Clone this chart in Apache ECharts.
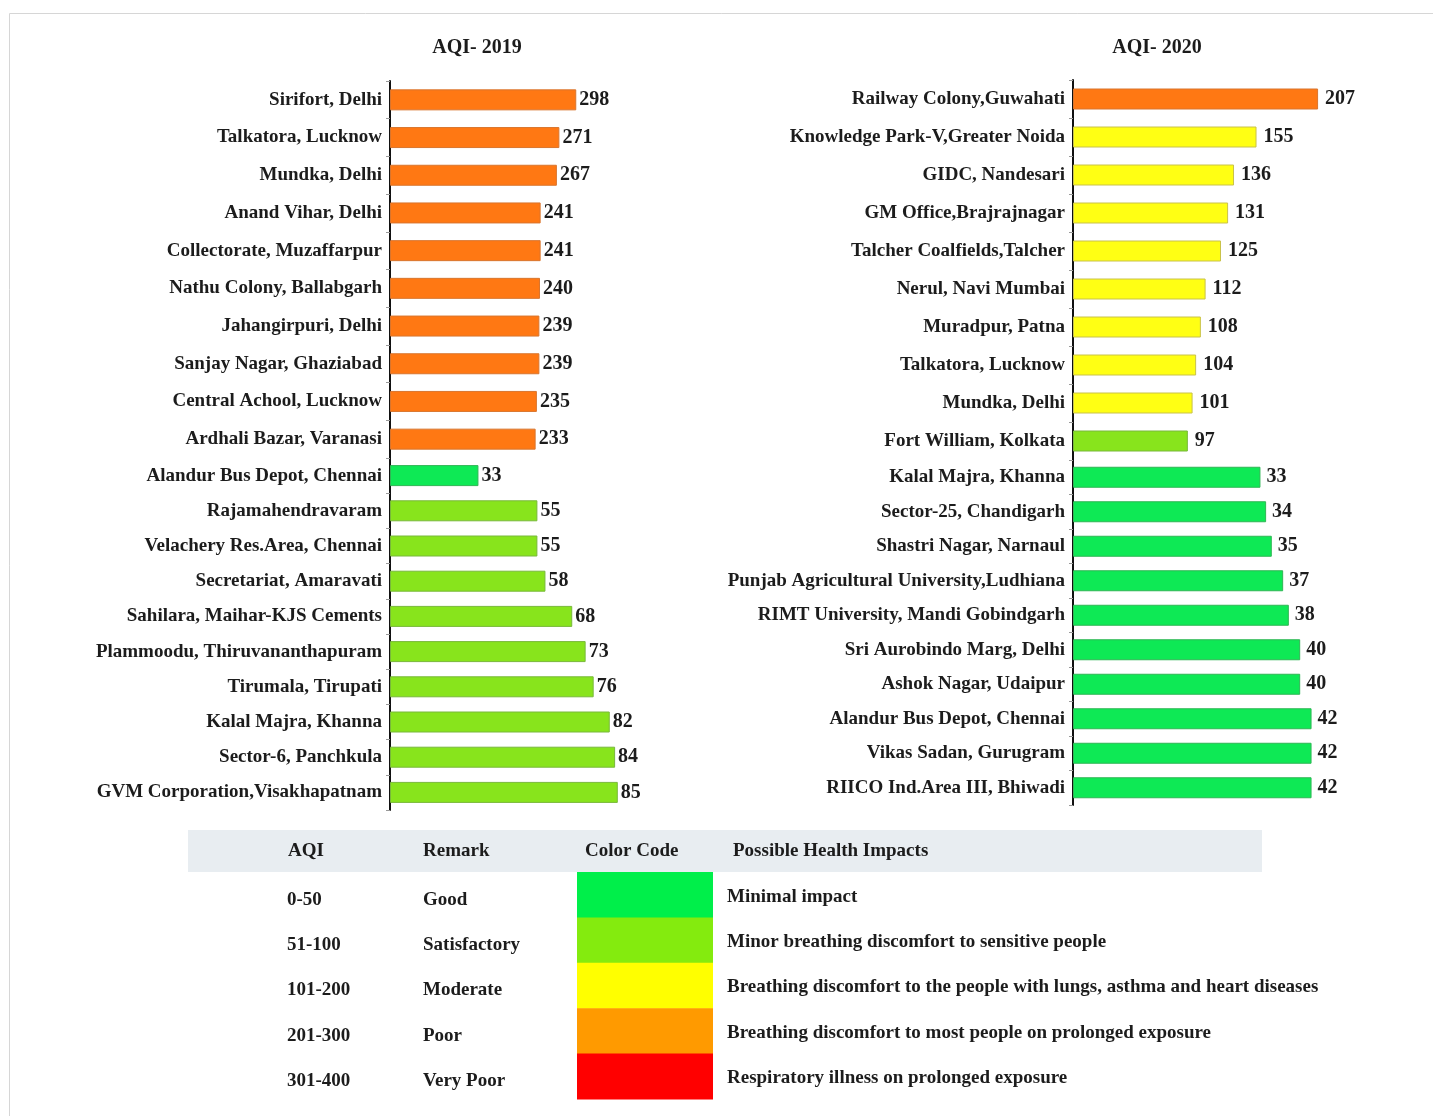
<!DOCTYPE html>
<html>
<head>
<meta charset="utf-8">
<title>AQI 2019 / 2020</title>
<script src="https://cdn.jsdelivr.net/npm/echarts@6/dist/echarts.min.js"></script>
<style>
html, body { margin: 0; padding: 0; background: #fff; }
#main { width: 1433px; height: 1116px; }
</style>
</head>
<body>
<div id="main"></div>
<script>
// 2019: ten most polluted and ten cleanest stations
var sites2019 = ['Sirifort, Delhi', 'Talkatora, Lucknow', 'Mundka, Delhi', 'Anand Vihar, Delhi',
    'Collectorate, Muzaffarpur', 'Nathu Colony, Ballabgarh', 'Jahangirpuri, Delhi', 'Sanjay Nagar, Ghaziabad',
    'Central Achool, Lucknow', 'Ardhali Bazar, Varanasi', 'Alandur Bus Depot, Chennai', 'Rajamahendravaram',
    'Velachery Res.Area, Chennai', 'Secretariat, Amaravati', 'Sahilara, Maihar-KJS Cements',
    'Plammoodu, Thiruvananthapuram', 'Tirumala, Tirupati', 'Kalal Majra, Khanna', 'Sector-6, Panchkula',
    'GVM Corporation,Visakhapatnam'];
var aqi2019 = [298, 271, 267, 241, 241, 240, 239, 239, 235, 233, 33, 55, 55, 58, 68, 73, 76, 82, 84, 85];

// 2020
var sites2020 = ['Railway Colony,Guwahati', 'Knowledge Park-V,Greater Noida', 'GIDC, Nandesari',
    'GM Office,Brajrajnagar', 'Talcher Coalfields,Talcher', 'Nerul, Navi Mumbai', 'Muradpur, Patna',
    'Talkatora, Lucknow', 'Mundka, Delhi', 'Fort William, Kolkata', 'Kalal Majra, Khanna',
    'Sector-25, Chandigarh', 'Shastri Nagar, Narnaul', 'Punjab Agricultural University,Ludhiana',
    'RIMT University, Mandi Gobindgarh', 'Sri Aurobindo Marg, Delhi', 'Ashok Nagar, Udaipur',
    'Alandur Bus Depot, Chennai', 'Vikas Sadan, Gurugram', 'RIICO Ind.Area III, Bhiwadi'];
var aqi2020 = [207, 155, 136, 131, 125, 112, 108, 104, 101, 97, 33, 34, 35, 37, 38, 40, 40, 42, 42, 42];

// AQI bands (table under the charts)
var tableHeads = ['AQI', 'Remark', 'Color Code', 'Possible Health Impacts'];
var bandTop = [50, 100, 200, 300, 400];
var bandRanges = ['0-50', '51-100', '101-200', '201-300', '301-400'];
var bandRemarks = ['Good', 'Satisfactory', 'Moderate', 'Poor', 'Very Poor'];
var bandColors = ['#00ef4a', '#84eb0e', '#ffff00', '#ff9a00', '#ff0000'];
var bandImpacts = ['Minimal impact', 'Minor breathing discomfort to sensitive people',
    'Breathing discomfort to the people with lungs, asthma and heart diseases',
    'Breathing discomfort to most people on prolonged exposure', 'Respiratory illness on prolonged exposure'];

// bar fill is a little different from the table swatches
var barColors = ['#0ee955', '#88e41c', '#ffff14', '#ff7813', '#ff1010'];
var barEdges = ['#2fb654', '#78b83a', '#c9c24a', '#d9752e', '#c03030'];

var FONT = '"Liberation Serif", "Times New Roman", serif';

function bandOf(v) {
    for (var i = 0; i < bandTop.length; i++) {
        if (v <= bandTop[i]) return i;
    }
    return bandTop.length - 1;
}

function barData(vals) {
    return vals.map(function (v) {
        var b = bandOf(v);
        return {value: v, itemStyle: {color: barColors[b], borderColor: barEdges[b], borderWidth: 1}};
    });
}

// each panel is two stacked grids: the source draws the top and bottom ten at different scales
var panels = [
    {names: sites2019.slice(0, 10), vals: aqi2019.slice(0, 10), left: 390, top: 81, height: 377, width: 250, max: 400, gap: 3},
    {names: sites2019.slice(10), vals: aqi2019.slice(10), left: 390, top: 458, height: 352, width: 268, max: 100, gap: 3},
    {names: sites2020.slice(0, 10), vals: aqi2020.slice(0, 10), left: 1073, top: 80, height: 380, width: 296, max: 250, gap: 7},
    {names: sites2020.slice(10), vals: aqi2020.slice(10), left: 1073, top: 460, height: 345, width: 284, max: 50, gap: 6}
];

var grids = [], xAxes = [], yAxes = [], series = [];
panels.forEach(function (p, i) {
    grids.push({left: p.left, top: p.top, width: p.width, height: p.height, containLabel: false});
    xAxes.push({type: 'value', gridIndex: i, min: 0, max: p.max, show: false});
    yAxes.push({
        type: 'category', gridIndex: i, inverse: true, data: p.names,
        axisLine: {show: true, lineStyle: {color: '#111', width: 2}},
        axisTick: {show: true, length: 4, lineStyle: {color: '#999'}},
        axisLabel: {fontFamily: FONT, fontWeight: 'bold', fontSize: 19, color: '#1c1c1c', margin: 8}
    });
    series.push({
        type: 'bar', xAxisIndex: i, yAxisIndex: i, barWidth: 21,
        data: barData(p.vals),
        label: {show: true, position: 'right', distance: p.gap, fontFamily: FONT, fontWeight: 'bold',
            fontSize: 20, color: '#1c1c1c'},
        silent: true
    });
});

// legend table
var tbl = {left: 188, right: 1262, headTop: 830, headH: 42, rowH: 45.4, cellL: 577, cellR: 713};
var colX = [288, 423, 585, 733];
var rowX = [287, 423, null, 727];
var graphics = [];
graphics.push({type: 'rect', left: 7, top: 11, shape: {width: 1440, height: 1120}, silent: true,
    style: {fill: 'none', stroke: '#d6d6d6', lineWidth: 1}});
graphics.push({type: 'rect', left: tbl.left, top: tbl.headTop,
    shape: {width: tbl.right - tbl.left, height: tbl.headH}, style: {fill: '#e8edf1'}});
tableHeads.forEach(function (h, j) {
    graphics.push({type: 'text', x: colX[j], y: tbl.headTop + tbl.headH / 2,
        style: {text: h, font: 'bold 19px ' + FONT, fill: '#1c1c1c', verticalAlign: 'middle'}});
});
bandRanges.forEach(function (r, i) {
    var y0 = tbl.headTop + tbl.headH + i * tbl.rowH;
    var cy = y0 + tbl.rowH / 2 + 5;
    graphics.push({type: 'rect', left: tbl.cellL, top: y0,
        shape: {width: tbl.cellR - tbl.cellL, height: tbl.rowH + 0.5}, style: {fill: bandColors[i]}});
    [r, bandRemarks[i], null, bandImpacts[i]].forEach(function (t, j) {
        if (t === null) return;
        graphics.push({type: 'text', x: rowX[j], y: j === 3 ? cy - 3 : cy,
            style: {text: t, font: 'bold 19px ' + FONT, fill: '#1c1c1c', verticalAlign: 'middle'}});
    });
});

var chart = echarts.init(document.getElementById('main'));
chart.setOption({
    backgroundColor: '#fff',
    animation: false,
    title: [
        {text: 'AQI- 2019', left: 472, top: 33, textAlign: 'center',
            textStyle: {fontFamily: FONT, fontWeight: 'bold', fontSize: 20, color: '#1c1c1c'}},
        {text: 'AQI- 2020', left: 1152, top: 33, textAlign: 'center',
            textStyle: {fontFamily: FONT, fontWeight: 'bold', fontSize: 20, color: '#1c1c1c'}}
    ],
    grid: grids,
    xAxis: xAxes,
    yAxis: yAxes,
    series: series,
    graphic: graphics
});
</script>
</body>
</html>
